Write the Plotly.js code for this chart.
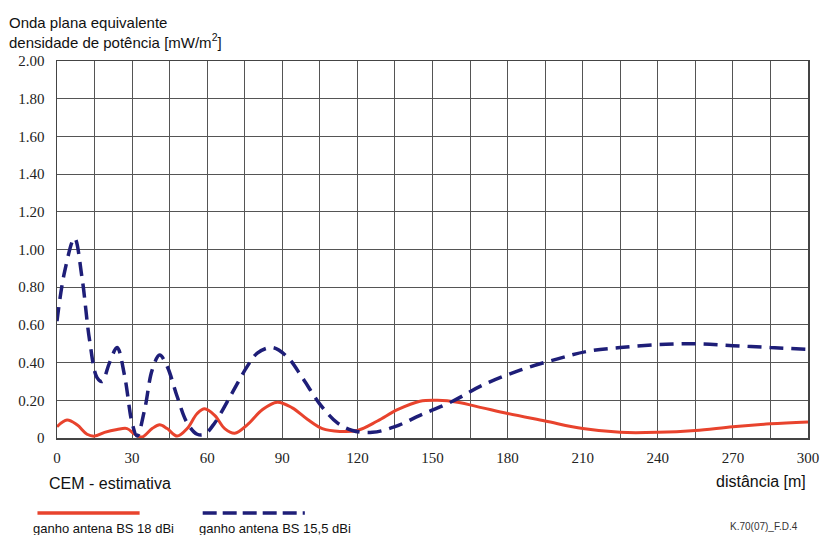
<!DOCTYPE html>
<html><head><meta charset="utf-8">
<script src="https://cdn.plot.ly/plotly-3.0.1.min.js"></script>
<style>html,body{margin:0;padding:0;background:#fff}#chart{width:823px;height:535px}</style>
</head><body><div id="chart"></div>
<script>
// distance [m]
const redX = [0,4,8,12,15,19,24,28,31,34,38,41,44,48,52,56,59,63,67,71,76,82,88,94,100,106,113,120,128,136,145,152,160,170,180,195,210,225,240,255,270,285,300];
const redY = [0.06,0.095,0.07,0.02,0.01,0.03,0.045,0.05,0.02,0.005,0.05,0.07,0.05,0.01,0.05,0.13,0.155,0.12,0.05,0.025,0.07,0.15,0.19,0.16,0.10,0.05,0.035,0.04,0.09,0.15,0.195,0.20,0.19,0.16,0.13,0.09,0.05,0.03,0.03,0.04,0.06,0.075,0.085];
const blueX = [0,3,7,10,13,16,18,21,24,27,30,32,35,38,41,44,48,52,56,59,63,70,76,80,86,92,98,105,112,118,126,135,145,158,170,185,200,212,225,240,255,270,285,300];
const blueY = [0.62,0.88,1.06,0.85,0.52,0.32,0.30,0.40,0.48,0.33,0.08,0.01,0.15,0.36,0.44,0.38,0.22,0.08,0.02,0.02,0.08,0.24,0.38,0.45,0.48,0.43,0.32,0.18,0.08,0.04,0.03,0.06,0.12,0.195,0.28,0.36,0.42,0.46,0.48,0.495,0.50,0.49,0.48,0.47];
const xTickVals = [0,30,60,90,120,150,180,210,240,270,300];
const xTickText = ['0','30','60','90','120','150','180','210','240','270','300'];
const yTickVals = [0,0.2,0.4,0.6,0.8,1.0,1.2,1.4,1.6,1.8,2.0];
const yTickText = ['0','0.20','0.40','0.60','0.80','1.00','1.20','1.40','1.60','1.80','2.00'];
const seriesNames = ['ganho antena BS 18 dBi','ganho antena BS 15,5 dBi'];

const red = '#e8432d', blue = '#1e1e78';
const traces = [
  {x: redX, y: redY, mode:'lines', line:{color:red, width:3, shape:'spline', smoothing:1}, name:seriesNames[0], hoverinfo:'skip'},
  {x: blueX, y: blueY, mode:'lines', line:{color:blue, width:3.5, shape:'spline', smoothing:1, dash:'14px,8px'}, name:seriesNames[1], hoverinfo:'skip'}
];
const tickFont = {family:'"Liberation Serif", "Times New Roman", serif', size:15, color:'#222'};
const txtFont = {family:'"Liberation Sans", Arial, sans-serif', size:15, color:'#111'};
const layout = {
  width:823, height:535,
  margin:{l:57, r:15, t:61, b:97},
  paper_bgcolor:'#fff', plot_bgcolor:'#fff',
  showlegend:false,
  xaxis:{range:[0,300], tickvals:xTickVals, ticktext:xTickText, ticks:'', ticklabelstandoff:5,
    showgrid:true, gridcolor:'#555', gridwidth:1, zeroline:false,
    minor:{dtick:15, showgrid:true, gridcolor:'#555', gridwidth:1},
    showline:true, linecolor:'#444', linewidth:1.5, mirror:true, tickfont:tickFont},
  yaxis:{range:[0,2], tickvals:yTickVals, ticktext:yTickText, ticks:'', ticklabelstandoff:8,
    showgrid:true, gridcolor:'#555', gridwidth:1, zeroline:false,
    showline:true, linecolor:'#444', linewidth:1.5, mirror:true, tickfont:tickFont},
  annotations:[
    {xref:'paper', yref:'paper', x:-0.066, y:1.02, xanchor:'left', yanchor:'bottom', showarrow:false, align:'left',
     text:'Onda plana equivalente<br>densidade de potência [mW/m<sup>2</sup>]', font:txtFont},
    {xref:'paper', yref:'paper', x:-0.013, y:-0.094, xanchor:'left', yanchor:'top', showarrow:false,
     text:'CEM - estimativa', font:{family:txtFont.family, size:16, color:'#111'}},
    {xref:'paper', yref:'paper', x:1.0, y:-0.088, xanchor:'right', yanchor:'top', showarrow:false,
     text:'distância [m]', font:{family:txtFont.family, size:16, color:'#111'}},
    {xref:'paper', yref:'paper', x:-0.034, y:-0.215, xanchor:'left', yanchor:'top', showarrow:false,
     text:seriesNames[0], font:{family:txtFont.family, size:13, color:'#111'}},
    {xref:'paper', yref:'paper', x:0.186, y:-0.215, xanchor:'left', yanchor:'top', showarrow:false,
     text:seriesNames[1], font:{family:txtFont.family, size:13, color:'#111'}},
    {xref:'paper', yref:'paper', x:0.99, y:-0.215, xanchor:'right', yanchor:'top', showarrow:false,
     text:'K.70(07)_F.D.4', font:{family:txtFont.family, size:10, color:'#333'}}
  ],
  shapes:[
    {type:'line', xref:'paper', yref:'paper', x0:-0.026, x1:0.11, y0:-0.199, y1:-0.199, line:{color:red, width:3.5}},
    {type:'line', xref:'paper', yref:'paper', x0:0.194, x1:0.33, y0:-0.199, y1:-0.199, line:{color:blue, width:3.5, dash:'14px,6px'}}
  ]
};
Plotly.newPlot('chart', traces, layout, {displayModeBar:false, staticPlot:true});
</script></body></html>
